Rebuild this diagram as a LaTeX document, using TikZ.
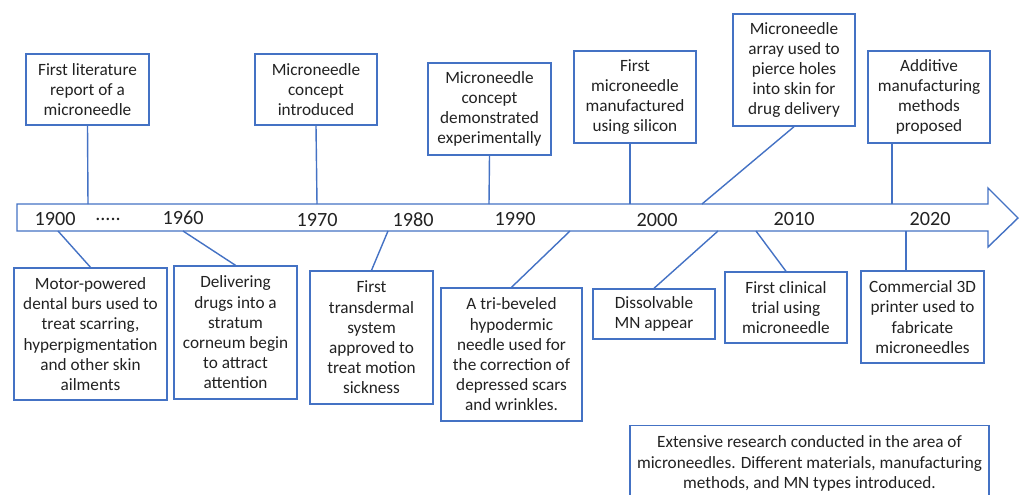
\documentclass[tikz,border=0pt]{standalone}
\usepackage{fontspec}
\setmainfont{Carlito}
\usepackage{xcolor}
\usetikzlibrary{calc,positioning}

\definecolor{mnblue}{HTML}{4472C4}
\definecolor{mntext}{HTML}{222222}

\begin{document}
\begin{tikzpicture}[x=0.02cm, y=-0.02cm,
    evbox/.style={draw=mnblue, line width=0.8pt, fill=white, inner sep=0pt,
        align=center, text=mntext, font=\fontsize{9.8}{11.5}\selectfont},
    yearlbl/.style={text=mntext, font=\fontsize{11.5}{13}\selectfont, inner sep=0pt},
    link/.style={draw=mnblue, line width=0.8pt}]
    \useasboundingbox (0,0) rectangle (1025,494);
    \clip (0,0) rectangle (1025,494);

    % Timeline arrow
    \draw[mnblue, line width=0.8pt, fill=white]
        (17,204) -- (988,204) -- (988,188) -- (1018,218) -- (988,247)
        -- (988,231) -- (17,231) -- cycle;

    % Years along the arrow
    \node[yearlbl] (y1900) at (55,219) {1900};
    \node[yearlbl] (ydots) at (108,219) {.....};
    \node[yearlbl] (y1960) at (183,218) {1960};
    \node[yearlbl] (y1970) at (317,220) {1970};
    \node[yearlbl] (y1980) at (413,220) {1980};
    \node[yearlbl] (y1990) at (515,219) {1990};
    \node[yearlbl] (y2000) at (657,220) {2000};
    \node[yearlbl] (y2010) at (794,219) {2010};
    \node[yearlbl] (y2020) at (930,219) {2020};

    % Points on the arrow where the links meet it
    \coordinate (a1) at (88,204);
    \coordinate (a2) at (317,204);
    \coordinate (a3) at (489,204);
    \coordinate (a4) at (630,204);
    \coordinate (a5) at (702,204);
    \coordinate (a6) at (892,204);
    \coordinate (c1) at (58,231);
    \coordinate (c2) at (183,231);
    \coordinate (c3) at (388,231);
    \coordinate (c4) at (570,231);
    \coordinate (c5) at (718,231);
    \coordinate (c6) at (756,231);
    \coordinate (c7) at (906,231);

    % Events above the arrow
    \node[evbox, minimum width=2.46cm, minimum height=1.42cm] (t1) at (87.5,89.5)
        {First literature\\report of a\\microneedle};
    \node[evbox, minimum width=2.44cm, minimum height=1.42cm] (t2) at (316,89.5)
        {Microneedle\\concept\\introduced};
    \node[evbox, minimum width=2.46cm, minimum height=1.84cm] (t3) at (489.5,109)
        {Microneedle\\concept\\demonstrated\\experimentally};
    \node[evbox, minimum width=2.44cm, minimum height=1.84cm] (t4) at (635,97)
        {First\\microneedle\\manufactured\\using silicon};
    \node[evbox, minimum width=2.44cm, minimum height=2.24cm] (t5) at (794,70)
        {Microneedle\\array used to\\pierce holes\\into skin for\\drug delivery};
    \node[evbox, minimum width=2.44cm, minimum height=1.84cm] (t6) at (929,97)
        {Additive\\manufacturing\\methods\\proposed};

    % Events below the arrow
    \node[evbox, minimum width=3.06cm, minimum height=2.64cm] (b1) at (90.5,334)
        {Motor-powered\\dental burs used to\\treat scarring,\\hyperpigmentation\\and other skin\\ailments};
    \node[evbox, minimum width=2.46cm, minimum height=2.66cm] (b2) at (235.5,332.5)
        {Delivering\\drugs into a\\stratum\\corneum begin\\to attract\\attention};
    \node[evbox, minimum width=2.46cm, minimum height=2.66cm] (b3) at (371.5,337.5)
        {First\\transdermal\\system\\approved to\\treat motion\\sickness};
    \node[evbox, minimum width=2.82cm, minimum height=2.66cm] (b4) at (511.5,354.5)
        {A tri-beveled\\hypodermic\\needle used for\\the correction of\\depressed scars\\and wrinkles.};
    \node[evbox, minimum width=2.44cm, minimum height=1.00cm] (b5) at (654,314)
        {Dissolvable\\MN appear};
    \node[evbox, minimum width=2.44cm, minimum height=1.42cm] (b6) at (786,307.5)
        {First clinical\\trial using\\microneedle};
    \node[evbox, minimum width=2.46cm, minimum height=1.84cm] (b7) at (922.5,317)
        {Commercial 3D\\printer used to\\fabricate\\microneedles};
    \node[evbox, minimum width=7.18cm, inner ysep=5.8pt, anchor=north] (b8) at (809.5,425)
        {Extensive research conducted in the area of\\microneedles. Different materials, manufacturing\\methods, and MN types introduced.};

    % Links from the events to the arrow
    \draw[link] (t1.south) -- (a1);
    \draw[link] (t2.south) -- (a2);
    \draw[link] (t3.south) -- (a3);
    \draw[link] (t4.south -| a4) -- (a4);
    \draw[link] (t5.south) -- (a5);
    \draw[link] (t6.south -| a6) -- (a6);
    \draw[link] (c1) -- (b1.north);
    \draw[link] (c2) -- (b2.north);
    \draw[link] (c3) -- (b3.north);
    \draw[link] (c4) -- (b4.north);
    \draw[link] (c5) -- (b5.north);
    \draw[link] (c6) -- (b6.north);
    \draw[link] (c7) -- (b7.north -| c7);
\end{tikzpicture}
\end{document}
